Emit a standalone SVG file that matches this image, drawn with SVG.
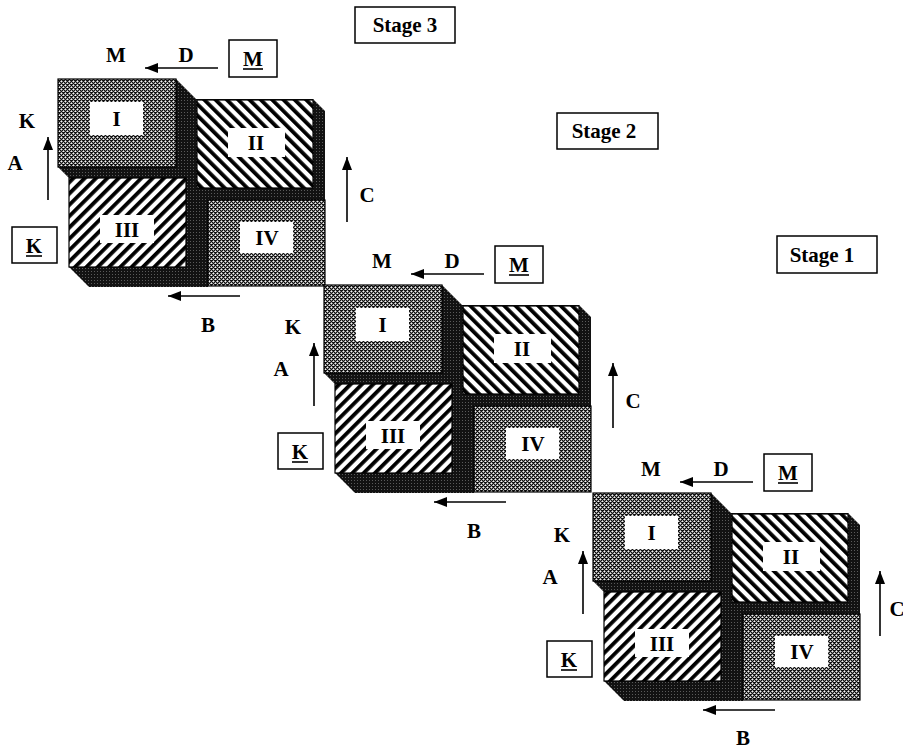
<svg xmlns="http://www.w3.org/2000/svg" width="903" height="749" viewBox="0 0 903 749">
<style>
text{font-family:"Liberation Serif","Times New Roman",serif;font-weight:bold;font-size:21px;fill:#000;text-anchor:middle}
.box{fill:#fff;stroke:#000;stroke-width:1.5}
.ul{stroke:#000;stroke-width:1.6}
.face{stroke:#000;stroke-width:1.2}
.xh{fill:url(#xh)}
.sf{fill:url(#sf)}
.sb{fill:url(#sb)}
.dk{fill:url(#dk)}
.win{fill:#fff}
.arr{stroke:#000;stroke-width:1.6;fill:none;marker-end:url(#ah)}
</style>
<defs>
<pattern id="xh" width="4" height="4" patternUnits="userSpaceOnUse">
<rect width="4" height="4" fill="#111"/>
<path d="M1,0.2h0.8v0.8h0.8v0.8h-0.8v0.8h-0.8v-0.8h-0.8v-0.8h0.8z" fill="#fff"/>
<path d="M3,2.2h0.8v0.8h0.8v0.8h-0.8v0.8h-0.8v-0.8h-0.8v-0.8h0.8z" fill="#fff"/>
<path d="M-1,2.2h0.8v0.8h0.8v0.8h-0.8v0.8h-0.8v-0.8h-0.8v-0.8h0.8z" fill="#fff"/>
</pattern>
<pattern id="sf" width="8" height="8" patternUnits="userSpaceOnUse" patternTransform="rotate(45)">
<rect width="8" height="8" fill="#fff"/>
<rect width="3.8" height="8" fill="#000"/>
</pattern>
<pattern id="sb" width="8" height="8" patternUnits="userSpaceOnUse" patternTransform="rotate(-45)">
<rect width="8" height="8" fill="#fff"/>
<rect width="3.8" height="8" fill="#000"/>
</pattern>
<pattern id="dk" width="3" height="3" patternUnits="userSpaceOnUse">
<rect width="3" height="3" fill="#121212"/>
<rect x="1" y="1" width="1" height="1" fill="#5a5a5a"/>
</pattern>
<marker id="ah" viewBox="0 0 13 10" refX="13" refY="5" markerWidth="13" markerHeight="10" markerUnits="userSpaceOnUse" orient="auto">
<path d="M0,0 L13,5 L0,10 Z" fill="#000"/>
</marker>
</defs>

<g id="stage-labels">
<g id="stage3-label"><rect class="box" x="355" y="7" width="100" height="36"/><text x="405" y="32">Stage 3</text></g>
<g id="stage2-label"><rect class="box" x="557" y="113" width="101" height="36"/><text x="604" y="138">Stage 2</text></g>
<g id="stage1-label"><rect class="box" x="777" y="236" width="100" height="37"/><text x="822" y="262">Stage 1</text></g>
</g>

<g id="stage3" transform="translate(0,0)">
<g id="s3-shadow"><polygon class="dk" points="176,79 196,99 313,99 325,111 325,200 208,200 208,287 89,287 69,267 69,178 58,167 176,167"/></g>
<g id="s3-IV"><rect class="xh face" x="208" y="200" width="117" height="86"/><rect class="win" x="240" y="222" width="53" height="31"/><text x="267" y="245">IV</text></g>
<g id="s3-II"><rect class="sb face" x="197" y="100" width="116" height="88"/><rect class="win" x="228" y="128" width="57" height="29"/><text x="256" y="150">II</text></g>
<g id="s3-III"><rect class="sf face" x="69" y="178" width="117" height="89"/><rect class="win" x="100" y="215" width="54" height="28"/><text x="127" y="237">III</text></g>
<g id="s3-I"><rect class="xh face" x="58" y="79" width="118" height="88"/><rect class="win" x="90" y="102" width="53" height="33"/><text x="116.5" y="126">I</text></g>
<g id="s3-Mbox"><rect class="box" x="229" y="40" width="48" height="37"/><text x="253" y="66">M</text><line class="ul" x1="243" y1="69" x2="263" y2="69"/></g>
<g id="s3-Kbox"><rect class="box" x="12" y="227" width="45" height="36"/><text x="34" y="253">K</text><line class="ul" x1="26" y1="256" x2="42" y2="256"/></g>
<g id="s3-texts"><text x="116" y="62">M</text><text x="186" y="62">D</text><text x="27" y="128">K</text><text x="15" y="170">A</text><text x="367" y="202">C</text><text x="208" y="332">B</text></g>
</g>

<g id="stage2" transform="translate(266,206)">
<g id="s2-shadow"><polygon class="dk" points="176,79 196,99 313,99 325,111 325,200 208,200 208,287 89,287 69,267 69,178 58,167 176,167"/></g>
<g id="s2-IV"><rect class="xh face" x="208" y="200" width="117" height="86"/><rect class="win" x="240" y="222" width="53" height="31"/><text x="267" y="245">IV</text></g>
<g id="s2-II"><rect class="sb face" x="197" y="100" width="116" height="88"/><rect class="win" x="228" y="128" width="57" height="29"/><text x="256" y="150">II</text></g>
<g id="s2-III"><rect class="sf face" x="69" y="178" width="117" height="89"/><rect class="win" x="100" y="215" width="54" height="28"/><text x="127" y="237">III</text></g>
<g id="s2-I"><rect class="xh face" x="58" y="79" width="118" height="88"/><rect class="win" x="90" y="102" width="53" height="33"/><text x="116.5" y="126">I</text></g>
<g id="s2-Mbox"><rect class="box" x="229" y="40" width="48" height="37"/><text x="253" y="66">M</text><line class="ul" x1="243" y1="69" x2="263" y2="69"/></g>
<g id="s2-Kbox"><rect class="box" x="12" y="227" width="45" height="36"/><text x="34" y="253">K</text><line class="ul" x1="26" y1="256" x2="42" y2="256"/></g>
<g id="s2-texts"><text x="116" y="62">M</text><text x="186" y="62">D</text><text x="27" y="128">K</text><text x="15" y="170">A</text><text x="367" y="202">C</text><text x="208" y="332">B</text></g>
</g>

<g id="stage1" transform="translate(535,414)">
<g id="s1-shadow"><polygon class="dk" points="176,79 196,99 313,99 325,111 325,200 208,200 208,287 89,287 69,267 69,178 58,167 176,167"/></g>
<g id="s1-IV"><rect class="xh face" x="208" y="200" width="117" height="86"/><rect class="win" x="240" y="222" width="53" height="31"/><text x="267" y="245">IV</text></g>
<g id="s1-II"><rect class="sb face" x="197" y="100" width="116" height="88"/><rect class="win" x="228" y="128" width="57" height="29"/><text x="256" y="150">II</text></g>
<g id="s1-III"><rect class="sf face" x="69" y="178" width="117" height="89"/><rect class="win" x="100" y="215" width="54" height="28"/><text x="127" y="237">III</text></g>
<g id="s1-I"><rect class="xh face" x="58" y="79" width="118" height="88"/><rect class="win" x="90" y="102" width="53" height="33"/><text x="116.5" y="126">I</text></g>
<g id="s1-Mbox"><rect class="box" x="229" y="40" width="48" height="37"/><text x="253" y="66">M</text><line class="ul" x1="243" y1="69" x2="263" y2="69"/></g>
<g id="s1-Kbox"><rect class="box" x="12" y="227" width="45" height="36"/><text x="34" y="253">K</text><line class="ul" x1="26" y1="256" x2="42" y2="256"/></g>
<g id="s1-texts"><text x="116" y="62">M</text><text x="186" y="62">D</text><text x="27" y="128">K</text><text x="15" y="170">A</text><text x="362" y="202">C</text><text x="208" y="331">B</text></g>
</g>

<g id="connectors">
<g transform="translate(0,0)">
<line class="arr" x1="218" y1="68" x2="145" y2="68"/>
<line class="arr" x1="48" y1="200" x2="48" y2="137"/>
<line class="arr" x1="347" y1="222" x2="347" y2="157"/>
<line class="arr" x1="240" y1="296" x2="168" y2="296"/>
</g>
<g transform="translate(266,206)">
<line class="arr" x1="218" y1="68" x2="145" y2="68"/>
<line class="arr" x1="48" y1="200" x2="48" y2="137"/>
<line class="arr" x1="347" y1="222" x2="347" y2="157"/>
<line class="arr" x1="240" y1="296" x2="168" y2="296"/>
</g>
<g transform="translate(535,414)">
<line class="arr" x1="218" y1="68" x2="145" y2="68"/>
<line class="arr" x1="48" y1="200" x2="48" y2="137"/>
<line class="arr" x1="345" y1="222" x2="345" y2="157"/>
<line class="arr" x1="240" y1="296" x2="168" y2="296"/>
</g>
</g>
</svg>
